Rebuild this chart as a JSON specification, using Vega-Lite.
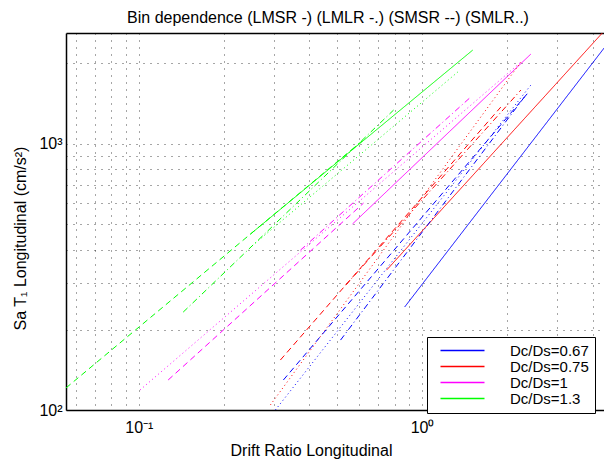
{
  "$schema": "https://vega.github.io/schema/vega-lite/v6.json",
  "width": 538,
  "height": 377,
  "autosize": {"type": "none"},
  "padding": {"left": 66, "top": 33, "right": 0, "bottom": 49},
  "title": {"text": "Bin dependence (LMSR -) (LMLR -.) (SMSR --) (SMLR..)", "fontSize": 16, "font": "Liberation Sans", "fontWeight": "normal", "offset": -15, "dx": -7, "color": "#000"},
  "config": {"view": {"stroke": null}, "font": "Liberation Sans"},
  "data": {"values": [
    {"r": "Dc/Ds=1.3", "s": "LMSR", "x": 0.2475, "y": 457},
    {"r": "Dc/Ds=1.3", "s": "LMSR", "x": 1.51, "y": 2243},
    {"r": "Dc/Ds=1.3", "s": "SMSR", "x": 0.0553, "y": 121},
    {"r": "Dc/Ds=1.3", "s": "SMSR", "x": 0.632, "y": 1049},
    {"r": "Dc/Ds=1.3", "s": "LMLR", "x": 0.1434, "y": 233},
    {"r": "Dc/Ds=1.3", "s": "LMLR", "x": 0.7935, "y": 1336},
    {"r": "Dc/Ds=1.3", "s": "SMLR", "x": 0.2578, "y": 423},
    {"r": "Dc/Ds=1.3", "s": "SMLR", "x": 1.336, "y": 1855},
    {"r": "Dc/Ds=1", "s": "LMSR", "x": 0.568, "y": 499},
    {"r": "Dc/Ds=1", "s": "LMSR", "x": 2.422, "y": 2167},
    {"r": "Dc/Ds=1", "s": "SMSR", "x": 0.1269, "y": 129.6},
    {"r": "Dc/Ds=1", "s": "SMSR", "x": 0.6215, "y": 598},
    {"r": "Dc/Ds=1", "s": "LMLR", "x": 0.372, "y": 398},
    {"r": "Dc/Ds=1", "s": "LMLR", "x": 1.486, "y": 1495},
    {"r": "Dc/Ds=1", "s": "SMLR", "x": 0.101, "y": 118.9},
    {"r": "Dc/Ds=1", "s": "SMLR", "x": 2.233, "y": 2022},
    {"r": "Dc/Ds=0.75", "s": "LMSR", "x": 0.7495, "y": 335},
    {"r": "Dc/Ds=0.75", "s": "LMSR", "x": 5, "y": 3076},
    {"r": "Dc/Ds=0.75", "s": "SMSR", "x": 0.316, "y": 154},
    {"r": "Dc/Ds=0.75", "s": "SMSR", "x": 1.897, "y": 1371},
    {"r": "Dc/Ds=0.75", "s": "LMLR", "x": 0.537, "y": 294},
    {"r": "Dc/Ds=0.75", "s": "LMLR", "x": 2.233, "y": 1588},
    {"r": "Dc/Ds=0.75", "s": "SMLR", "x": 0.2913, "y": 104.4},
    {"r": "Dc/Ds=0.75", "s": "SMLR", "x": 2.233, "y": 2022},
    {"r": "Dc/Ds=0.67", "s": "LMSR", "x": 0.868, "y": 243.5},
    {"r": "Dc/Ds=0.67", "s": "LMSR", "x": 5, "y": 2729},
    {"r": "Dc/Ds=0.67", "s": "SMSR", "x": 0.3238, "y": 129.6},
    {"r": "Dc/Ds=0.67", "s": "SMSR", "x": 2.363, "y": 1547},
    {"r": "Dc/Ds=0.67", "s": "LMLR", "x": 0.5154, "y": 183},
    {"r": "Dc/Ds=0.67", "s": "LMLR", "x": 2.326, "y": 1521},
    {"r": "Dc/Ds=0.67", "s": "SMLR", "x": 0.3034, "y": 100},
    {"r": "Dc/Ds=0.67", "s": "SMLR", "x": 2.422, "y": 1658}
  ]},
  "resolve": {"axis": {"x": "independent"}},
  "layer": [
    {
      "mark": {"type": "line", "strokeWidth": 1, "clip": true},
      "encoding": {
        "x": {"field": "x", "type": "quantitative",
          "scale": {"type": "log", "domain": [0.0553, 4.39], "nice": false},
          "axis": {"title": "Drift Ratio Longitudinal", "titleFontSize": 16, "titleFontWeight": "normal", "titleColor": "#000", "titlePadding": 7, "titleX": 245,
            "values": [0.06, 0.07, 0.08, 0.09, 0.1, 0.2, 0.3, 0.4, 0.5, 0.6, 0.7, 0.8, 0.9, 1, 2, 3, 4],
            "labelExpr": "datum.value == 0.1 ? '10⁻¹' : datum.value == 1 ? '10⁰' : ''",
            "labelFontSize": 16, "labelColor": "#000", "labelPadding": 9, "ticks": false,
            "domainColor": "#000", "domainWidth": 1.5,
            "grid": true, "gridColor": "#000", "gridOpacity": 0.7, "gridDash": [1, 6]}},
        "y": {"field": "y", "type": "quantitative",
          "scale": {"type": "log", "domain": [100, 2600], "nice": false},
          "axis": {"title": "Sa T₁ Longitudinal (cm/s²)", "titleFontSize": 16, "titleFontWeight": "normal", "titleColor": "#000", "titleX": -38, "titleY": 205,
            "values": [100, 200, 300, 400, 500, 600, 700, 800, 900, 1000, 2000],
            "labelExpr": "datum.value == 100 ? '10²' : datum.value == 1000 ? '10³' : ''",
            "labelFontSize": 16, "labelColor": "#000", "labelPadding": 4, "ticks": false,
            "domainColor": "#000", "domainWidth": 1.5,
            "grid": true, "gridColor": "#000", "gridOpacity": 0.7, "gridDash": [1, 6]}},
        "color": {"field": "r", "type": "nominal",
          "scale": {"domain": ["Dc/Ds=0.67", "Dc/Ds=0.75", "Dc/Ds=1", "Dc/Ds=1.3"], "range": ["#0000ff", "#ff0000", "#ff00ff", "#00ff00"]},
          "legend": {"orient": "none", "legendX": 361, "legendY": 304, "title": null, "symbolType": "M0,0H8", "symbolSize": 121, "symbolStrokeWidth": 1.5,
            "labelFontSize": 15, "labelColor": "#000", "labelOffset": 62, "padding": 6, "strokeColor": "#000", "fillColor": "#fff", "rowPadding": -2.5}},
        "strokeDash": {"field": "s", "type": "nominal",
          "scale": {"domain": ["LMSR", "LMLR", "SMSR", "SMLR"], "range": [[1, 0], [6, 3, 1, 3], [6, 4], [1, 3]]},
          "legend": null}
      }
    },
    {
      "mark": {"type": "point", "opacity": 0},
      "encoding": {
        "x": {"field": "x", "type": "quantitative",
          "axis": {"orient": "top", "title": null, "labels": false, "ticks": false, "grid": false, "domainColor": "#000", "domainWidth": 1.5}},
        "y": {"field": "y", "type": "quantitative"}
      }
    }
  ]
}
